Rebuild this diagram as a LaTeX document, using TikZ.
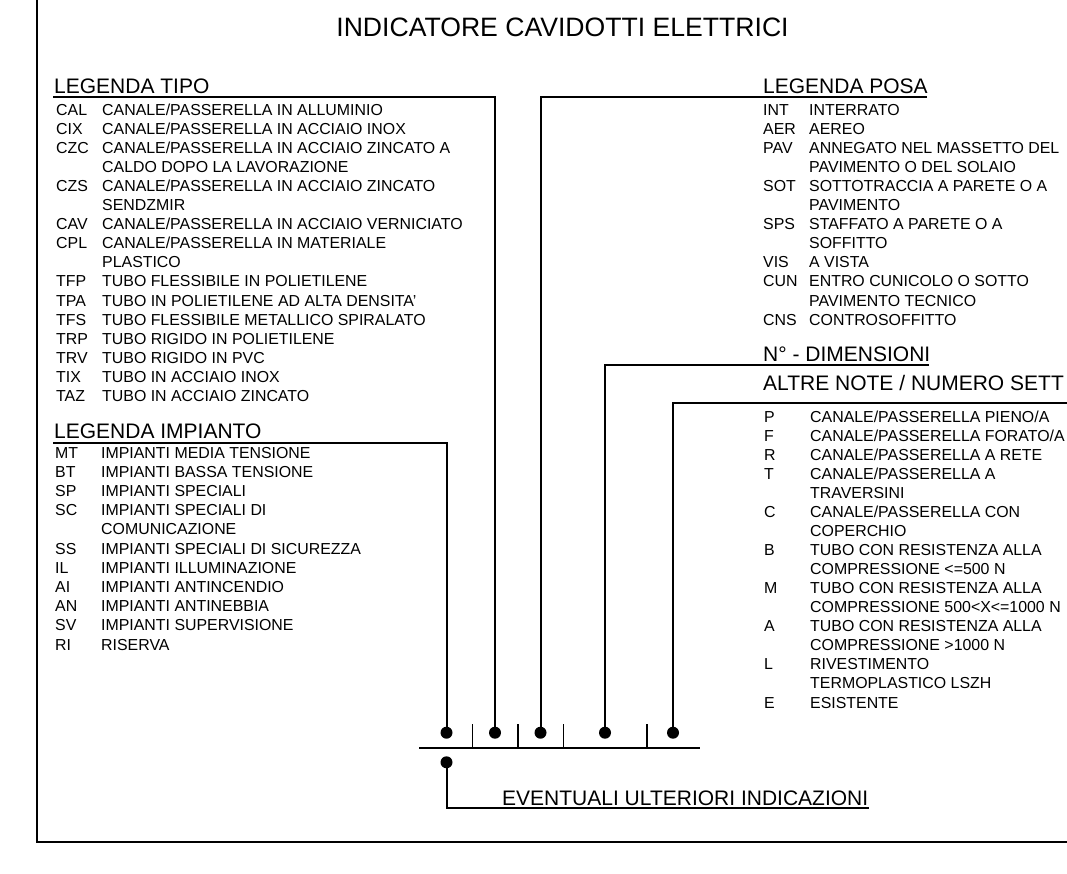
\documentclass[tikz,border=0pt]{standalone}
\usepackage{fontspec}
\setmainfont{Liberation Sans}
\newcommand\ent[5]{\node[entry] (#1c) at (#2,#3) {#4}; \node[entry] (#1d) at (#2+46,#3) {#5};}
\newcommand\cont[4]{\node[entry] (#1) at (#2,#3) {#4};}
\begin{document}
\begin{tikzpicture}[x=1pt,y=-1pt,
  ln/.style={line width=2pt, line cap=butt},
  entry/.style={anchor=base west, inner sep=0pt, font=\fontsize{15.9}{19}\selectfont},
  head/.style={anchor=base west, inner sep=0pt, font=\fontsize{21}{25}\selectfont},
  dot/.style={circle, fill, inner sep=0pt, minimum size=12pt}]
\useasboundingbox (0,0) rectangle (1067,874);
\begin{scope}
\clip (0,0) rectangle (1067,874);
% frame
\draw[ln] (36.5,-2) -- (36.5,842) -- (1070,842);
% title
\node[anchor=base, inner sep=0pt, font=\fontsize{26.6}{30}\selectfont] (title) at (562.5,37) {INDICATORE CAVIDOTTI ELETTRICI};

% LEGENDA TIPO
\node[head] (tipoH) at (54,93.5) {LEGENDA TIPO};
\ent{t1}{56}{116}{CAL}{CANALE/PASSERELLA IN ALLUMINIO}
\ent{t2}{56}{135}{CIX}{CANALE/PASSERELLA IN ACCIAIO INOX}
\ent{t3}{56}{154}{CZC}{CANALE/PASSERELLA IN ACCIAIO ZINCATO A}
\cont{t3b}{102}{173}{CALDO DOPO LA LAVORAZIONE}
\ent{t4}{56}{192}{CZS}{CANALE/PASSERELLA IN ACCIAIO ZINCATO}
\cont{t4b}{102}{211}{SENDZMIR}
\ent{t5}{56}{230}{CAV}{CANALE/PASSERELLA IN ACCIAIO VERNICIATO}
\ent{t6}{56}{249}{CPL}{CANALE/PASSERELLA IN MATERIALE}
\cont{t6b}{102}{268}{PLASTICO}
\ent{t7}{56}{287}{TFP}{TUBO FLESSIBILE IN POLIETILENE}
\ent{t8}{56}{306}{TPA}{TUBO IN POLIETILENE AD ALTA DENSITA'}
\ent{t9}{56}{325}{TFS}{TUBO FLESSIBILE METALLICO SPIRALATO}
\ent{t10}{56}{344}{TRP}{TUBO RIGIDO IN POLIETILENE}
\ent{t11}{56}{363}{TRV}{TUBO RIGIDO IN PVC}
\ent{t12}{56}{382}{TIX}{TUBO IN ACCIAIO INOX}
\ent{t13}{56}{401}{TAZ}{TUBO IN ACCIAIO ZINCATO}

% LEGENDA IMPIANTO
\node[head] (impH) at (54,438.5) {LEGENDA IMPIANTO};
\ent{i1}{55}{458}{MT}{IMPIANTI MEDIA TENSIONE}
\ent{i2}{55}{477.2}{BT}{IMPIANTI BASSA TENSIONE}
\ent{i3}{55}{496.4}{SP}{IMPIANTI SPECIALI}
\ent{i4}{55}{515.6}{SC}{IMPIANTI SPECIALI DI}
\cont{i4b}{101}{534.8}{COMUNICAZIONE}
\ent{i5}{55}{554}{SS}{IMPIANTI SPECIALI DI SICUREZZA}
\ent{i6}{55}{573.2}{IL}{IMPIANTI ILLUMINAZIONE}
\ent{i7}{55}{592.4}{AI}{IMPIANTI ANTINCENDIO}
\ent{i8}{55}{611.6}{AN}{IMPIANTI ANTINEBBIA}
\ent{i9}{55}{630.8}{SV}{IMPIANTI SUPERVISIONE}
\ent{i10}{55}{650}{RI}{RISERVA}

% LEGENDA POSA
\node[head] (posaH) at (763,93.5) {LEGENDA POSA};
\ent{p1}{763}{116}{INT}{INTERRATO}
\ent{p2}{763}{135}{AER}{AEREO}
\ent{p3}{763}{154}{PAV}{ANNEGATO NEL MASSETTO DEL}
\cont{p3b}{809}{173}{PAVIMENTO O DEL SOLAIO}
\ent{p4}{763}{192}{SOT}{SOTTOTRACCIA A PARETE O A}
\cont{p4b}{809}{211}{PAVIMENTO}
\ent{p5}{763}{230}{SPS}{STAFFATO A PARETE O A}
\cont{p5b}{809}{249}{SOFFITTO}
\ent{p6}{763}{268}{VIS}{A VISTA}
\ent{p7}{763}{287}{CUN}{ENTRO CUNICOLO O SOTTO}
\cont{p7b}{809}{306}{PAVIMENTO TECNICO}
\ent{p8}{763}{325}{CNS}{CONTROSOFFITTO}

% N - DIMENSIONI
\node[head] (dimH) at (763,361) {N° - DIMENSIONI};
% ALTRE NOTE
\node[head] (altH) at (763,390) {ALTRE NOTE / NUMERO SETT};
\ent{a1}{764}{422}{P}{CANALE/PASSERELLA PIENO/A}
\ent{a2}{764}{441.07}{F}{CANALE/PASSERELLA FORATO/A}
\ent{a3}{764}{460.14}{R}{CANALE/PASSERELLA A RETE}
\ent{a4}{764}{479.21}{T}{CANALE/PASSERELLA A}
\cont{a4b}{810}{498.28}{TRAVERSINI}
\ent{a5}{764}{517.35}{C}{CANALE/PASSERELLA CON}
\cont{a5b}{810}{536.42}{COPERCHIO}
\ent{a6}{764}{555.49}{B}{TUBO CON RESISTENZA ALLA}
\cont{a6b}{810}{574.56}{COMPRESSIONE <=500 N}
\ent{a7}{764}{593.63}{M}{TUBO CON RESISTENZA ALLA}
\cont{a7b}{810}{612.7}{COMPRESSIONE 500<X<=1000 N}
\ent{a8}{764}{631.77}{A}{TUBO CON RESISTENZA ALLA}
\cont{a8b}{810}{650.84}{COMPRESSIONE >1000 N}
\ent{a9}{764}{669.91}{L}{RIVESTIMENTO}
\cont{a9b}{810}{688.98}{TERMOPLASTICO LSZH}
\ent{a10}{764}{708.05}{E}{ESISTENTE}

% dots
\node[dot] (d1) at (446.5,732.7) {};
\node[dot] (d2) at (495,732.7) {};
\node[dot] (d3) at (540.5,732.7) {};
\node[dot] (d4) at (605,732.7) {};
\node[dot] (d5) at (673,732.7) {};
\node[dot] (d6) at (446.5,762.3) {};

% connectors
\coordinate (tipoL) at (53,97.5);
\coordinate (posaR) at (927,97.5);
\coordinate (impL) at (53,443);
\coordinate (dimR) at (929,365);
\coordinate (altR) at (1070,403);
\coordinate (evR) at (869,808);
\draw[ln] (tipoL) -| (d2.center);
\draw[ln] (posaR) -| (d3.center);
\draw[ln] (impL) -| (d1.center);
\draw[ln] (dimR) -| (d4.center);
\draw[ln] (altR) -| (d5.center);
\draw[ln] (d6.center) |- (evR);
\node[anchor=base west, inner sep=0pt, font=\fontsize{21}{25}\selectfont] (evH) at (502,805) {EVENTUALI ULTERIORI INDICAZIONI};

% bar with ticks
\coordinate (barL) at (419,748);
\coordinate (barR) at (700,748);
\draw[ln] (barL) -- (barR);
\foreach \x/\n in {472.3/k1,517.7/k2,563.3/k3,646.7/k4} {
  \coordinate (\n) at (\x,724);
  \draw[ln, line width=1.6pt] (\n) -- (\n |- barL);
}
\end{scope}
\end{tikzpicture}
\end{document}
